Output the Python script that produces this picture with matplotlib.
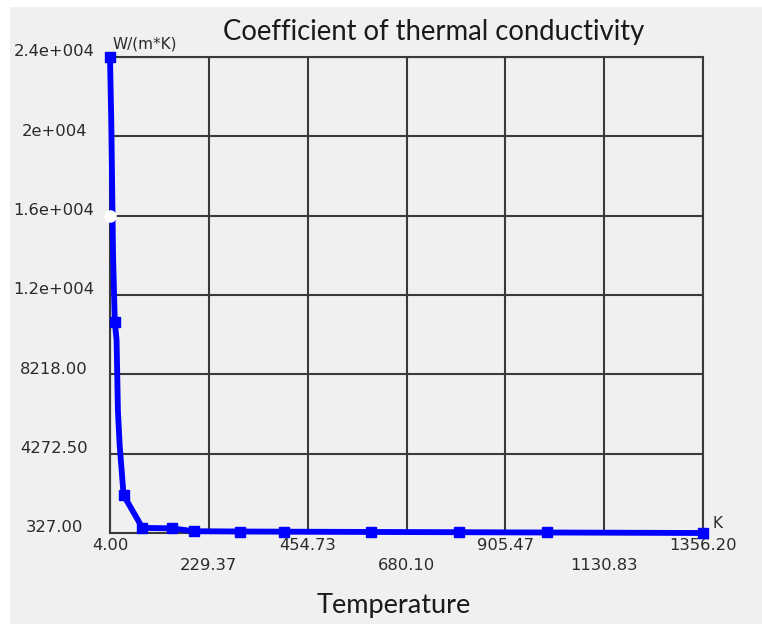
import matplotlib
matplotlib.use("Agg")
import matplotlib.pyplot as plt
from matplotlib.patches import Rectangle

# ---- data ----
temperature = [4, 7, 11, 15, 19, 22, 26, 35, 78, 145, 195, 300, 400, 600, 800, 1000, 1175, 1356.2]
conductivity = [24000, 20700, 14050, 10820, 9920, 6440, 4700, 2210, 580, 560, 415, 401, 393, 379, 366, 352, 340, 327]
marker_idx = [0, 3, 7, 8, 9, 10, 11, 12, 13, 14, 15, 17]
highlight_T = [4]
highlight_k = [16109]
x_ticks = [4.00, 229.37, 454.73, 680.10, 905.47, 1130.83, 1356.20]
x_tick_labels = ["4.00", "229.37", "454.73", "680.10", "905.47", "1130.83", "1356.20"]
y_ticks = [327.0, 4272.5, 8218.0, 12163.5, 16109.0, 20054.5, 24000.0]
y_tick_labels = ["327.00", "4272.50", "8218.00", "1.2e+004", "1.6e+004", "2e+004", "2.4e+004"]
title = "Coefficient of thermal conductivity"
x_title = "Temperature"
y_unit = "W/(m*K)"
x_unit = "K"

W, H = 762, 624
fig = plt.figure(figsize=(W / 100, H / 100), dpi=100)
fig.patch.set_facecolor("white")
fig.add_artist(Rectangle((10 / W, 0), 1 - 10 / W, 1 - 7 / H, transform=fig.transFigure,
                         facecolor="#f0f0f0", edgecolor="none", zorder=0))

ax = fig.add_axes([110 / W, 1 - 533 / H, (703 - 110) / W, (533 - 57) / H])
ax.set_facecolor("#f0f0f0")
ax.set_xlim(x_ticks[0], x_ticks[-1])
ax.set_ylim(y_ticks[0], y_ticks[-1])
ax.set_xticks(x_ticks)
ax.set_yticks(y_ticks)
ax.set_xticklabels([])
ax.set_yticklabels([])
ax.tick_params(length=0)
ax.grid(True, color="#3a3a3a", linewidth=1.5)
for s in ax.spines.values():
    s.set_color("#3a3a3a")
    s.set_linewidth(1.5)

ax.plot(temperature, conductivity, color="#0000ff", linewidth=4.2,
        marker="s", markersize=7.5, markevery=marker_idx, clip_on=False, zorder=5,
        solid_joinstyle="miter")
ax.plot(highlight_T, highlight_k, linestyle="none", marker="o", markersize=8,
        markerfacecolor="white", markeredgecolor="white", clip_on=False, zorder=6)

lab_font = dict(family="DejaVu Sans", fontsize=11.8, color="#2a2a2a")
for i, (xv, lab) in enumerate(zip(x_ticks, x_tick_labels)):
    off = -12 if i % 2 == 0 else -32
    ax.annotate(lab, xy=(xv, 0), xycoords=("data", "axes fraction"),
                xytext=(0, off * 0.72), textcoords="offset points",
                ha="center", va="center", **lab_font)
for yv, lab in zip(y_ticks, y_tick_labels):
    ax.annotate(lab, xy=(0, yv), xycoords=("axes fraction", "data"),
                xytext=(-56 * 0.72, 5 * 0.72), textcoords="offset points",
                ha="center", va="center", **lab_font)

ax.annotate(y_unit, xy=(0, 1), xycoords="axes fraction", xytext=(2 * 0.72, 13 * 0.72),
            textcoords="offset points", ha="left", va="center",
            family="DejaVu Sans", fontsize=11, color="#2a2a2a")
ax.annotate(x_unit, xy=(1, 0), xycoords="axes fraction", xytext=(14 * 0.72, 9 * 0.72),
            textcoords="offset points", ha="center", va="center",
            family="DejaVu Sans", fontsize=11, color="#2a2a2a")

fig.text(434 / W, 1 - 32 / H, title, ha="center", va="center",
         family="Lato", fontsize=19.8, color="#1a1a1a")
fig.text(394 / W, 1 - 605 / H, x_title, ha="center", va="center",
         family="Lato", fontsize=19.5, color="#1a1a1a")

fig.savefig("out.png", dpi=100, facecolor=fig.get_facecolor())
